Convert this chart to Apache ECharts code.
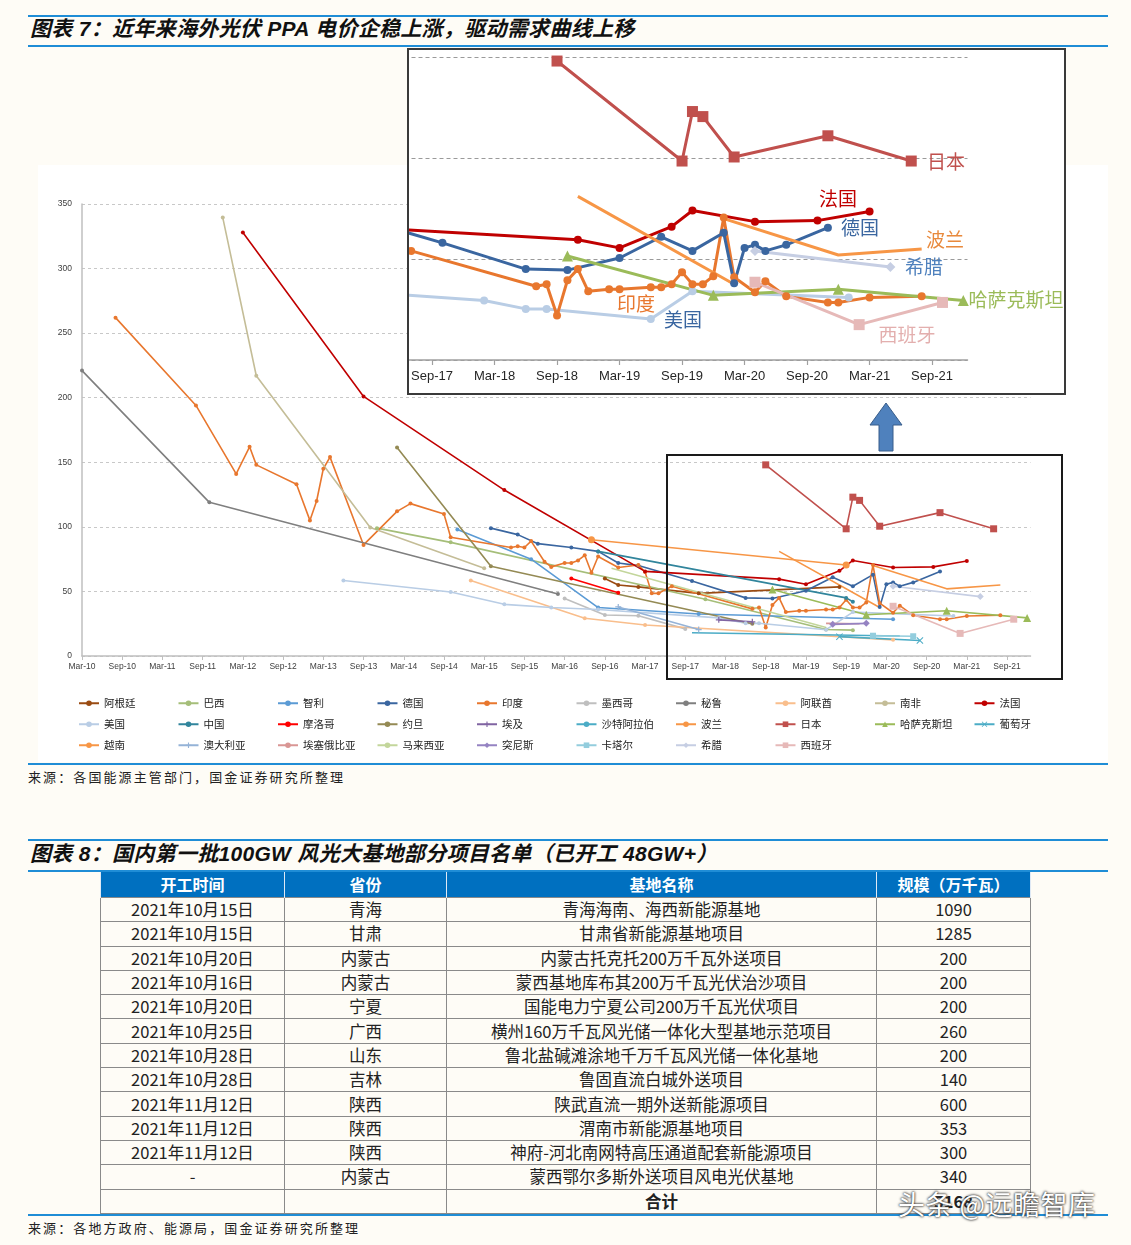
<!DOCTYPE html>
<html><head><meta charset="utf-8">
<script src="https://cdn.jsdelivr.net/npm/echarts@6/dist/echarts.min.js"></script>
<style>
body{margin:0;background:#fefcf6;font-family:"Noto Sans CJK SC",sans-serif;}
#page{position:relative;width:1131px;height:1245px;overflow:hidden;}
.bl{position:absolute;left:28px;width:1080px;height:2px;background:#1f8dd6;}
.ttl{position:absolute;left:30px;font-weight:bold;font-style:italic;font-size:21px;letter-spacing:0.3px;color:#111;white-space:nowrap;line-height:24px;font-family:"Liberation Sans","Noto Sans CJK SC",sans-serif;}
.src{position:absolute;left:28px;font-size:13px;letter-spacing:2.1px;color:#222;line-height:16px;}
#c1{position:absolute;left:38px;top:165px;width:1070px;height:597px;background:#fff;}
#c2{position:absolute;left:407px;top:48px;width:655px;height:343px;border:2px solid #3a3a3a;background:#fff;}
#tb{position:absolute;left:100px;top:872px;width:930px;border-collapse:collapse;table-layout:fixed;}
#tb th{background:#0070C0;color:#fff;font-weight:bold;font-size:16px;height:25px;padding:0;border-left:1px solid #dfe9f5;border-right:1px solid #dfe9f5;line-height:25px;}
#tb td{height:23.3px;padding:0;border:1px solid #8a8a8a;text-align:center;font-size:16.5px;color:#222;line-height:23px;}
#wm{position:absolute;left:898px;top:1184px;font-size:27px;letter-spacing:0.5px;color:#fff;white-space:nowrap;text-shadow:0 0 2px #222,0 0 3px #444;}
</style></head>
<body><div id="page">
<div class="bl" style="top:15px"></div>
<div class="ttl" style="top:17px">图表 7：近年来海外光伏 PPA 电价企稳上涨，驱动需求曲线上移</div>
<div class="bl" style="top:45px"></div>
<div id="c1"></div>
<div id="c2"></div>
<div class="bl" style="top:763px"></div>
<div class="src" style="top:769px">来源：各国能源主管部门，国金证券研究所整理</div>
<div class="bl" style="top:839px"></div>
<div class="ttl" style="top:842px">图表 8：国内第一批100GW 风光大基地部分项目名单（已开工 48GW+）</div>
<div class="bl" style="top:870px"></div>
<table id="tb">
<colgroup><col style="width:184px"><col style="width:162px"><col style="width:430px"><col style="width:154px"></colgroup>
<thead><tr><th>开工时间</th><th>省份</th><th>基地名称</th><th>规模（万千瓦）</th></tr></thead>
<tbody id="tbody"></tbody>
</table>
<div class="bl" style="top:1214px"></div>
<div class="src" style="top:1220px">来源：各地方政府、能源局，国金证券研究所整理</div>
<div id="wm">头条 @远瞻智库</div>
</div>
<script>
// ---------- chart data (month strings 'YYYY-MM', USD/MWh) ----------
const xTickLabels = ['Mar-10','Sep-10','Mar-11','Sep-11','Mar-12','Sep-12','Mar-13','Sep-13','Mar-14','Sep-14','Mar-15','Sep-15','Mar-16','Sep-16','Mar-17','Sep-17','Mar-18','Sep-18','Mar-19','Sep-19','Mar-20','Sep-20','Mar-21','Sep-21'];

const argentina = [['2016-09',60],['2016-11',55],['2017-02',53.5],['2017-11',48.5],['2019-08',53.5]];
const brazil = [['2013-11',99],['2014-10',88],['2017-12',44],['2019-06',20.5],['2019-10',20]];
const chile = [['2014-11',98],['2015-10',75],['2016-08',37.5],['2017-11',32.5],['2020-04',28.5]];
const germany = [['2015-04',99],['2015-08',94],['2015-11',87],['2016-04',84],['2016-08',81],['2016-11',72],['2017-02',70],['2017-10',58],['2018-06',45],['2018-10',44.5],['2019-03',50.5],['2019-07',61],['2019-10',54],['2020-01',63],['2020-02',38],['2020-03',55.5],['2020-04',57],['2020-05',54],['2020-07',57],['2020-11',65.5]];
const india = [['2010-08',262],['2011-08',194],['2012-02',141],['2012-04',162],['2012-05',148],['2012-11',133],['2013-01',105],['2013-02',120],['2013-03',145],['2013-04',154],['2013-09',86],['2014-02',112],['2014-04',118],['2014-09',110],['2014-10',92],['2015-07',84],['2015-08',85],['2015-09',84],['2015-10',89],['2015-12',73],['2016-01',69],['2016-03',72],['2016-04',72],['2016-05',74],['2016-06',78],['2016-07',64.5],['2016-08',77],['2016-11',68.5],['2017-02',70.5],['2017-03',65],['2017-04',48.5],['2017-05',48.5],['2017-07',54],['2018-07',36.5],['2018-08',37.5],['2018-09',22],['2018-10',39.5],['2018-11',45],['2018-12',34],['2019-02',35],['2019-03',35],['2019-06',36],['2019-07',36],['2019-08',37.5],['2019-09',43.5],['2019-10',37.5],['2019-11',37.5],['2019-12',41.5],['2020-01',70.5],['2020-02',41],['2020-04',33.5],['2020-05',39],['2020-07',31.5],['2020-11',28.5],['2020-12',28.5],['2021-03',31],['2021-08',31.5]];
const mexico = [['2016-03',44.5],['2016-09',31.7],['2017-02',31.2],['2017-09',21]];
const peru = [['2010-03',221],['2011-10',119],['2016-02',48]];
const uae = [['2015-01',58.5],['2016-06',29.2],['2017-03',24],['2020-04',12.5]];
const southAfrica = [['2011-12',339.5],['2012-05',217],['2013-10',99.5],['2015-03',68]];
const france = [['2012-03',328],['2013-09',201],['2015-06',128.5],['2017-03',65.5],['2018-11',59.5],['2019-03',55.5],['2019-08',66],['2019-10',74],['2020-04',68.5],['2020-10',69],['2021-03',73.5]];
const usa = [['2013-06',58.5],['2014-10',49.5],['2015-06',40],['2016-01',37.5],['2016-08',36],['2018-02',29.5],['2018-06',25.3],['2018-08',25.3],['2019-06',20.3],['2019-10',34],['2021-01',31]];
const china = [['2016-08',81],['2019-09',45],['2019-10',42]];
const morocco = [['2016-04',60],['2016-11',49]];
const jordan = [['2014-02',161.5],['2015-04',69.5],['2018-07',25]];
const egypt = [['2018-02',28],['2018-07',26.5]];
const saudi = [['2017-10',18],['2020-05',15.5]];
const poland = [['2018-11',81],['2020-02',37.5],['-','-'],['2020-01',70],['2020-12',52],['2021-08',55]];
const japan = [['2018-09',148],['2019-09',98.5],['2019-10',123],['2019-11',120.5],['2020-02',100.5],['2020-11',111],['2021-07',98.5]];
const kazakhstan = [['2018-10',51.5],['2019-12',32],['2020-12',35],['2021-12',29.5]];
const portugal = [['2019-08',15],['2020-08',12]];
const vietnam = [['2016-07',90],['2019-09',70.5]];
const australia = [['2016-11',38],['2017-11',20.5]];
const ethiopia = [['2019-06',25.3],['2019-11',25]];
const malaysia = [['2016-10',68],['2019-06',22]];
const tunisia = [['2019-07',24.5],['2019-12',25.3]];
const qatar = [['2020-01',15.7],['2020-07',15.3]];
const greece = [['2020-04',54],['2021-05',46]];
const spain = [['2020-04',38.5],['2021-02',17.5],['2021-10',28.5]];

// table data
const tDates = ['2021年10月15日','2021年10月15日','2021年10月20日','2021年10月16日','2021年10月20日','2021年10月25日','2021年10月28日','2021年10月28日','2021年11月12日','2021年11月12日','2021年11月12日','-'];
const tProv = ['青海','甘肃','内蒙古','内蒙古','宁夏','广西','山东','吉林','陕西','陕西','陕西','内蒙古'];
const tNames = ['青海海南、海西新能源基地','甘肃省新能源基地项目','内蒙古托克托200万千瓦外送项目','蒙西基地库布其200万千瓦光伏治沙项目','国能电力宁夏公司200万千瓦光伏项目','横州160万千瓦风光储一体化大型基地示范项目','鲁北盐碱滩涂地千万千瓦风光储一体化基地','鲁固直流白城外送项目','陕武直流一期外送新能源项目','渭南市新能源基地项目','神府-河北南网特高压通道配套新能源项目','蒙西鄂尔多斯外送项目风电光伏基地'];
const tScale = [1090,1285,200,200,200,260,200,140,600,353,300,340];

// ---------- styles ----------
const PLUS = 'path://M4,0H6V4H10V6H6V10H4V6H0V4H4Z';
const XS = 'path://M1,0L5,4L9,0L10,1L6,5L10,9L9,10L5,6L1,10L0,9L4,5L0,1Z';
const seriesMeta = [
 ['阿根廷', argentina, '#9A4B12', 'circle', 4],
 ['巴西', brazil, '#A5BE79', 'circle', 4],
 ['智利', chile, '#5B9BD5', 'circle', 4],
 ['德国', germany, '#3A66A0', 'circle', 4],
 ['印度', india, '#E8772E', 'circle', 4],
 ['墨西哥', mexico, '#BFBFBF', 'circle', 4],
 ['秘鲁', peru, '#7F7F7F', 'circle', 4],
 ['阿联酋', uae, '#F9BE8C', 'circle', 4],
 ['南非', southAfrica, '#C4BD97', 'circle', 4],
 ['法国', france, '#C00000', 'circle', 4],
 ['美国', usa, '#B9CDE5', 'circle', 4],
 ['中国', china, '#31859C', 'circle', 4],
 ['摩洛哥', morocco, '#FF0000', 'circle', 4],
 ['约旦', jordan, '#948A54', 'circle', 4],
 ['埃及', egypt, '#8064A2', PLUS, 6],
 ['沙特阿拉伯', saudi, '#4BACC6', 'none', 0],
 ['波兰', poland, '#F79646', 'none', 0],
 ['日本', japan, '#C0504D', 'rect', 7],
 ['哈萨克斯坦', kazakhstan, '#9BBB59', 'triangle', 8],
 ['葡萄牙', portugal, '#4BACC6', XS, 7],
 ['越南', vietnam, '#F79646', 'circle', 7],
 ['澳大利亚', australia, '#95B3D7', PLUS, 6],
 ['埃塞俄比亚', ethiopia, '#D99694', 'none', 0],
 ['马来西亚', malaysia, '#C3D69B', 'none', 0],
 ['突尼斯', tunisia, '#9583C2', 'diamond', 7],
 ['卡塔尔', qatar, '#93CDDD', 'rect', 6],
 ['希腊', greece, '#C6CEE3', 'diamond', 7],
 ['西班牙', spain, '#E6B9B8', 'rect', 7]
];
const insetNames = ['美国','印度','德国','法国','波兰','希腊','哈萨克斯坦','西班牙','日本'];
const insetLabels = [
 ['日本','#C0504D',537,112],['法国','#C00000',429,149],['德国','#3A66A0',451,178],['波兰','#E8893C',536,190],
 ['希腊','#4F81BD',515,217],['哈萨克斯坦','#9BBB59',607,250],['西班牙','#E3AFAE',498,285],['印度','#E8772E',227,254],['美国','#3A66A0',274,270]
];

// ---------- helpers ----------
const monthIdx = d => { const p = d.split('-').map(Number); return (p[0]-2010)*12 + (p[1]-3); };
const toXY = arr => arr.map(p => p[0] === '-' ? ['-','-'] : [monthIdx(p[0]), p[1]]);
const fmtX = v => (Number.isInteger(v/6) && xTickLabels[v/6]) || '';
const AXF = '"Liberation Sans","Noto Sans CJK SC",sans-serif';

// ---------- main chart ----------
const c1 = echarts.init(document.getElementById('c1'));
c1.setOption({
 animation:false,
 backgroundColor:'#ffffff',
 grid:{left:44,right:77.5,top:39,bottom:106,containLabel:false,outerBoundsMode:'none'},
 xAxis:{type:'value',min:0,max:141.5,interval:6,
   axisLine:{lineStyle:{color:'#BFBFBF',width:1.5}},
   axisTick:{show:true,length:4,lineStyle:{color:'#BFBFBF'}},
   axisLabel:{formatter:fmtX,fontSize:8.5,color:'#404040',margin:6,fontFamily:AXF,showMaxLabel:false},
   splitLine:{show:false}},
 yAxis:{type:'value',min:0,max:350,interval:50,
   axisLine:{show:true,lineStyle:{color:'#BFBFBF',width:1.5}},
   axisTick:{show:false},
   axisLabel:{fontSize:8.5,color:'#404040',margin:10,fontFamily:AXF},
   splitLine:{show:true,lineStyle:{color:'#C8C8C8',type:[3,3],width:1}}},
 legend: seriesMeta.map((s,i)=>({data:[s[0]],left:40+(i%10)*99.5,top:533+Math.floor(i/10)*21,
   itemWidth:20,itemHeight:7,padding:0,selectedMode:false,
   textStyle:{fontSize:10.5,color:'#222',fontFamily:'"Noto Sans CJK SC",sans-serif'}})),
 series: seriesMeta.map(s=>({type:'line',name:s[0],data:toXY(s[1]),symbol:s[3],symbolSize:s[4],
   showSymbol:s[3]!=='none',connectNulls:false,clip:true,
   lineStyle:{color:s[2],width:1.6},itemStyle:{color:s[2]}})),
 graphic:[
   {type:'rect',shape:{x:629,y:290,width:395,height:224},style:{fill:'none',stroke:'#1a1a1a',lineWidth:2},z:50},
   {type:'polygon',shape:{points:[[848,238],[864,260],[855,260],[855,286],[841,286],[841,260],[832,260]]},
    style:{fill:'#4F81BD',stroke:'#385D8A',lineWidth:1},z:50}
 ]
});

// ---------- inset chart ----------
const c2 = echarts.init(document.getElementById('c2'));
const insetMeta = insetNames.map(n => seriesMeta.find(s => s[0] === n));
c2.setOption({
 animation:false,
 backgroundColor:'#ffffff',
 grid:{left:-39.5,right:96.5,top:7,bottom:33,containLabel:false,outerBoundsMode:'none'},
 xAxis:{type:'value',min:84,max:141.4,interval:6,
   axisLine:{lineStyle:{color:'#A0A0A0',width:1.5}},
   axisTick:{show:true,length:5,lineStyle:{color:'#A0A0A0',width:1.2}},
   axisLabel:{formatter:fmtX,fontSize:13,color:'#262626',margin:10,fontFamily:AXF,showMaxLabel:false,showMinLabel:false},
   splitLine:{show:false}},
 yAxis:{type:'value',min:0,max:150,interval:50,
   axisLine:{show:false},axisTick:{show:false},axisLabel:{show:false},
   splitLine:{show:true,lineStyle:{color:'#9a9a9a',type:[4,3],width:1}}},
 series: insetMeta.map(s=>({type:'line',name:s[0],data:toXY(s[1]),symbol:s[3]==='none'?'none':s[3],
   symbolSize: s[3]==='rect'||s[3]==='triangle' ? 11 : (s[3]==='diamond'?10:8),
   showSymbol:s[3]!=='none',connectNulls:false,clip:true,
   lineStyle:{color:s[2],width:3},itemStyle:{color:s[2]}})),
 graphic: insetLabels.map(l=>({type:'text',x:l[2],y:l[3],z:50,
   style:{text:l[0],fill:l[1],fontSize:19,fontFamily:'"Noto Sans CJK SC",sans-serif',align:'center',verticalAlign:'middle'}}))
});

// ---------- table ----------
const tb = document.getElementById('tbody');
let html = '';
for (let i = 0; i < tDates.length; i++) {
  html += '<tr><td>'+tDates[i]+'</td><td>'+tProv[i]+'</td><td>'+tNames[i]+'</td><td>'+tScale[i]+'</td></tr>';
}
const total = tScale.reduce((a,b)=>a+b,0);
html += '<tr><td></td><td></td><td style="font-weight:bold">合计</td><td style="font-weight:bold">'+total+'</td></tr>';
tb.innerHTML = html;
</script>
</body></html>
